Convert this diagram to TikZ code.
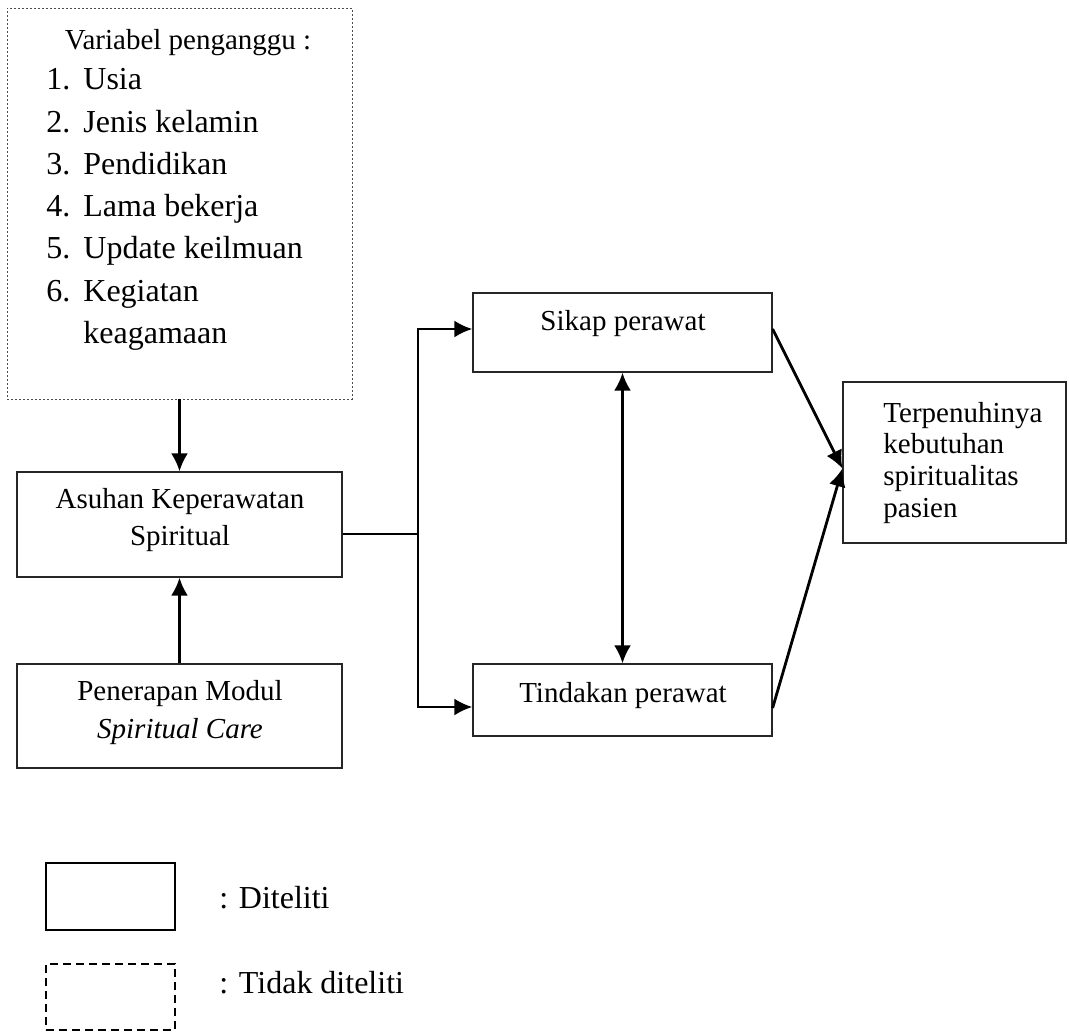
\documentclass[tikz,border=0pt]{standalone}
\usepackage{fontspec}
\setmainfont{Liberation Serif}
\usetikzlibrary{arrows.meta,fit}
\tikzset{>={Latex[length=9pt,width=8.5pt]}}
\tikzset{
    kotak/.style={draw=black!85,line width=0.6pt,inner sep=0pt},
    titik/.style={draw=black!70,line width=0.4pt,dash pattern=on 1pt off 1pt,inner sep=0pt},
    legenda/.style={draw,line width=0.9pt,inner sep=0pt},
    legendaputus/.style={draw,line width=0.9pt,dash pattern=on 4pt off 2.5pt,inner sep=0pt},
    teks/.style={anchor=base,inner sep=0pt,font=\fontsize{14.5pt}{17pt}\selectfont},
    besar/.style={anchor=base west,inner sep=0pt,font=\fontsize{16pt}{19pt}\selectfont},
    panah/.style={line width=1.4pt}
}
\newcommand{\kotak}[6][kotak]{
    \node[#1,fit={(#3,#4) (#5,#6)}] (#2) {};
}
\newcommand{\baris}[5][teks]{
    \node[#1] (#2) at (#3,{#4}) {#5};
}

\begin{document}
\begin{tikzpicture}[x=0.5pt,y=-0.5pt]
    \useasboundingbox (0,0) rectangle (1069,1032);
    % kotak
    \kotak[titik]{var}{7}{8}{352}{399}
    \kotak{asuhan}{17}{472}{342}{577}
    \kotak{modul}{17}{664}{342}{768}
    \kotak{sikap}{473}{293}{772}{372}
    \kotak{tindakan}{473}{664}{772}{736}
    \kotak{hasil}{843}{382}{1066}{543}
    \kotak[legenda]{legA}{46}{863}{175}{930}
    \kotak[legendaputus]{legB}{46}{964}{175}{1030}
    % teks
    \baris{judul}{188}{50}{Variabel penganggu :}
    \foreach \kata [count=\i] in {Usia,Jenis kelamin,Pendidikan,Lama bekerja,Update keilmuan,Kegiatan}{
        \baris[besar]{no\i}{46}{90+42.2*(\i-1)}{\i.}
        \baris[besar]{isi\i}{83}{90+42.2*(\i-1)}{\kata}
    }
    \baris[besar]{isi7}{83}{343}{keagamaan}
    \baris{asuhanA}{180}{508}{Asuhan Keperawatan}
    \baris{asuhanB}{180}{545}{Spiritual}
    \baris{modulA}{180}{700}{Penerapan Modul}
    \baris{modulB}{180}{738}{\itshape Spiritual Care}
    \baris{sikapT}{623}{330}{Sikap perawat}
    \baris{tindakanT}{623}{702}{Tindakan perawat}
    \foreach \kata/\y [count=\i] in {Terpenuhinya/422,kebutuhan/453,spiritualitas/485,pasien/517}{
        \baris[teks,anchor=base west]{hasil\i}{883}{\y}{\kata}
    }
    \baris[besar]{legAT}{219}{908}{: Diteliti}
    \baris[besar]{legBT}{219}{993}{: Tidak diteliti}
    % panah
    \coordinate (cabang) at (418,534);
    \coordinate (masuk) at ([yshift=-3pt]hasil.west);
    \draw[panah,->] (var) -- (asuhan);
    \draw[panah,->] (modul) -- (asuhan);
    \draw[panah] (asuhan.east |- cabang) -- (cabang);
    \draw[panah,->] (cabang) |- ([yshift=1.75pt]sikap.west);
    \draw[panah,->] (cabang) |- ([yshift=-3.5pt]tindakan.west);
    \draw[panah,<->] (sikap) -- (tindakan);
    \draw[panah,->] ([yshift=1.75pt]sikap.east) -- (masuk);
    \draw[panah,->] ([yshift=-4pt]tindakan.east) -- (masuk);
\end{tikzpicture}
\end{document}
